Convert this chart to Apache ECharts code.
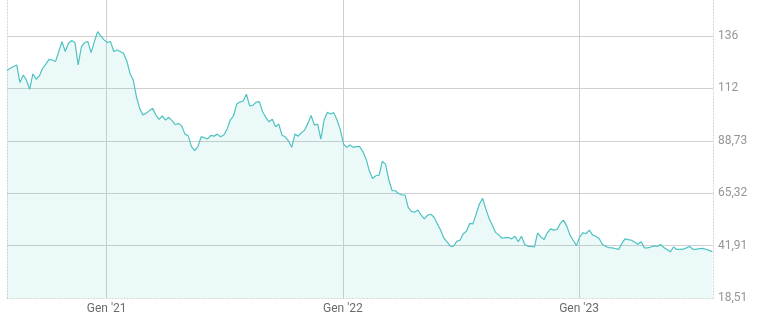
<!DOCTYPE html>
<html><head><meta charset="utf-8">
<script src="https://cdn.jsdelivr.net/npm/echarts@6/dist/echarts.min.js"></script>
<style>html,body{margin:0;padding:0;background:#fff}#c{width:772px;height:326px}</style>
</head><body><div id="c"></div>
<script>
// ---- data ----
const startDate = '2020-07-31';   // first day on the axis
const dayCount = 1092;            // days shown on the axis
const sampleStepDays = 5;         // one price reading every 5 days
const prices = [
 120.1,121.1,121.9,122.6,114.7,118.1,115.9,111.7,118.6,116.2,
 117.7,121.1,123.0,125.1,124.8,124.1,128.6,133.0,128.6,132.3,
 133.5,132.6,122.6,130.8,132.6,133.0,128.1,133.0,137.5,135.6,
 133.8,132.6,133.0,128.6,129.3,128.6,127.8,124.5,118.9,115.9,
 108.4,103.2,100.2,101.0,102.2,103.2,100.2,98.3,99.8,98.0,
 99.2,97.7,95.9,96.5,95.3,91.7,91.0,86.1,84.3,86.1,
 90.5,90.1,89.6,91.1,90.8,91.7,90.5,91.3,93.8,98.0,
 99.8,105.1,106.0,106.5,109.5,104.3,104.6,106.0,106.2,101.7,
 99.2,97.2,98.3,95.0,96.2,91.2,90.5,88.7,85.8,91.7,
 90.8,92.3,93.5,96.5,100.0,95.7,96.2,89.5,98.0,101.5,
 100.7,101.3,98.0,93.8,87.3,85.8,86.8,85.8,86.1,86.1,
 83.8,80.5,75.2,71.9,73.1,73.4,79.5,78.3,71.3,66.5,
 66.4,65.2,64.5,64.5,59.0,57.2,56.8,57.8,55.5,53.8,
 55.5,55.9,54.6,51.6,48.9,45.3,43.6,41.7,41.6,43.8,
 44.3,47.2,48.3,51.8,51.6,56.0,60.5,63.0,58.2,54.0,
 51.0,47.8,46.6,45.2,45.5,45.5,44.9,46.1,43.6,46.1,
 42.5,41.6,41.6,41.3,47.6,45.8,44.6,47.6,49.4,48.8,
 49.1,51.8,53.3,50.6,46.6,44.3,41.9,45.8,47.6,47.3,
 48.8,46.6,46.1,45.1,42.5,41.6,41.0,40.9,40.6,40.2,
 42.8,44.9,44.6,44.3,43.4,42.5,43.6,40.9,40.9,41.3,
 41.8,41.5,42.4,41.0,40.2,39.1,41.3,40.2,40.2,40.3,
 40.9,41.5,40.2,40.2,40.6,40.7,40.3,39.8,39.2
];
const yMin = 18.507, yStep = 23.4065, yMax = 151.6;
const yTickLabels = ['18,51','41,91','65,32','88,73','112','136'];
const monthNames = ['Gen','Feb','Mar','Apr','Mag','Giu','Lug','Ago','Set','Ott','Nov','Dic'];

// ---- build ----
const t0 = Date.parse(startDate + 'T00:00:00Z');
const categories = [];
for (let i = 0; i < dayCount; i++) categories.push(new Date(t0 + i * 86400000).toISOString().slice(0, 10));
const seriesData = prices.map((v, k) => [categories[k * sampleStepDays], v]);
const isYearStart = (idx, val) => typeof val === 'string' ? val.slice(5) === '01-01' : categories[idx].slice(5) === '01-01';

const dotted = { show: true, lineStyle: { color: '#d2d2d2', type: [1, 2], width: 1 } };
const chart = echarts.init(document.getElementById('c'), null, { renderer: 'canvas' });
chart.setOption({
  animation: false,
  grid: { left: 7, right: 59, top: 0, bottom: 28, containLabel: false },
  xAxis: {
    type: 'category', data: categories, boundaryGap: false,
    axisLine: Object.assign({ onZero: false }, dotted),
    axisTick: { show: false },
    axisLabel: {
      interval: isYearStart, margin: 5, color: '#6b6b6b', fontSize: 12, fontFamily: 'Roboto',
      formatter: v => monthNames[+v.slice(5, 7) - 1] + " '" + v.slice(2, 4)
    },
    splitLine: { show: true, interval: isYearStart, lineStyle: { color: '#cfcfcf', width: 1 } }
  },
  yAxis: [{
    type: 'value', position: 'right', min: yMin, max: yMax, interval: yStep,
    axisLine: dotted, axisTick: { show: false },
    axisLabel: {
      margin: 5, color: '#959595', fontSize: 12, fontFamily: 'Roboto', showMaxLabel: false,
      formatter: v => { const i = Math.round((v - yMin) / yStep); return Math.abs(v - (yMin + i * yStep)) < 1e-6 && yTickLabels[i] ? yTickLabels[i] : ''; }
    },
    splitLine: { show: true, showMinLine: false, showMaxLine: false, lineStyle: { color: '#cfcfcf', width: 1 } }
  }, {
    type: 'value', position: 'left', min: 0, max: 1,
    axisLine: dotted, axisTick: { show: false }, axisLabel: { show: false }, splitLine: { show: false }
  }],
  series: [{
    type: 'line', data: seriesData, yAxisIndex: 0, showSymbol: false, symbol: 'none',
    lineStyle: { color: '#4fc2c2', width: 1.2 },
    areaStyle: { color: 'rgba(79,200,200,0.15)', origin: 'start' }
  }]
});
</script></body></html>
